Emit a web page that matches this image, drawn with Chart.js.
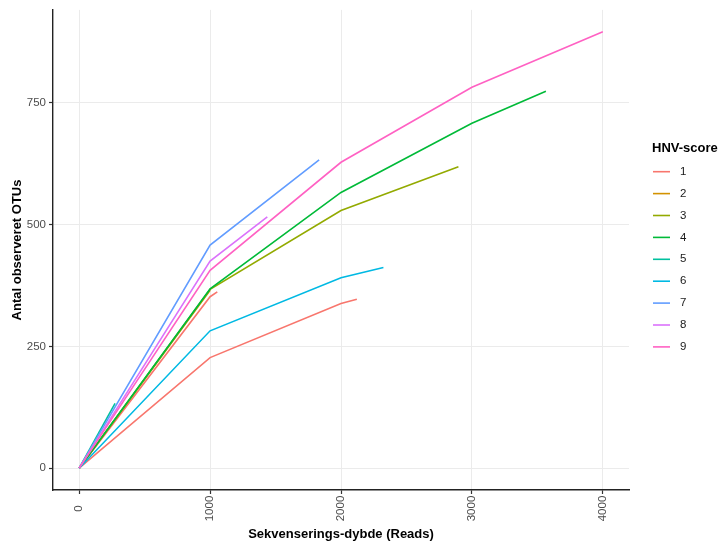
<!DOCTYPE html>
<html>
<head>
<meta charset="utf-8">
<script src="https://cdn.jsdelivr.net/npm/chart.js@4"></script>
<style>
  html, body { margin: 0; padding: 0; background: #fff; }
  #wrap { width: 723px; height: 544px; }
</style>
</head>
<body>
<div id="wrap"><canvas id="rarefaction"></canvas></div>
<script>
const hnvScores = ['1', '2', '3', '4', '5', '6', '7', '8', '9'];
const scoreColours = ['#F8766D', '#D39200', '#93AA00', '#00BA38', '#00C19F',
                      '#00B9E3', '#619CFF', '#DB72FB', '#FF61C3'];

// one line per sample: its HNV-score, the read depths and OTUs observed
const sampleScore = [1, 1, 2, 3, 4, 5, 6, 7, 8, 9];
const sampleDepth = [
  [0, 1000, 2000, 2121],
  [0, 1000, 1055],
  [0, 1000],
  [0, 1000, 2000, 2897],
  [0, 1000, 2000, 3000, 3565],
  [0, 274],
  [0, 1000, 2000, 2324],
  [0, 1000, 1833],
  [0, 1000, 1437],
  [0, 1000, 2000, 3000, 4000]
];
const sampleOtus = [
  [0, 227, 338, 347],
  [0, 352, 362],
  [0, 365],
  [0, 367, 529, 619],
  [0, 368, 566, 708, 774],
  [0, 133],
  [0, 282, 391, 412],
  [0, 458, 633],
  [0, 425, 516],
  [0, 406, 628, 782, 896]
];

const xTicks = [0, 1000, 2000, 3000, 4000];
const yTicks = [0, 250, 500, 750];

const fontFam = '"Liberation Sans", Arial, sans-serif';

const datasets = sampleScore.map((s, i) => ({
  label: hnvScores[s - 1],
  data: sampleDepth[i].map((d, j) => ({ x: d, y: sampleOtus[i][j] })),
  borderColor: scoreColours[s - 1],
  borderWidth: 1.6,
  pointRadius: 0,
  tension: 0,
  fill: false,
  order: sampleScore.length - i
}));

// rotated x labels (centred like ggplot) and the legend on the right
const extras = {
  id: 'extras',
  afterDraw(chart) {
    const ctx = chart.ctx;
    const xs = chart.scales.x;
    const area = chart.chartArea;
    ctx.save();
    ctx.fillStyle = '#4D4D4D';
    ctx.font = '11.5px ' + fontFam;
    ctx.textAlign = 'center';
    ctx.textBaseline = 'middle';
    xs.ticks.forEach(t => {
      ctx.save();
      ctx.translate(xs.getPixelForValue(t.value), area.bottom + 18.5);
      ctx.rotate(-Math.PI / 2);
      ctx.fillText(String(t.value), 0, 0);
      ctx.restore();
    });

    const lx = area.right + 23;
    ctx.textAlign = 'left';
    ctx.fillStyle = '#000';
    ctx.font = 'bold 13px ' + fontFam;
    ctx.fillText('HNV-score', lx, 148);
    ctx.font = '11.5px ' + fontFam;
    hnvScores.forEach((lab, k) => {
      const y = 171.7 + k * 21.9;
      ctx.strokeStyle = scoreColours[k];
      ctx.lineWidth = 1.6;
      ctx.beginPath();
      ctx.moveTo(lx + 1, y);
      ctx.lineTo(lx + 18, y);
      ctx.stroke();
      ctx.fillStyle = '#1A1A1A';
      ctx.fillText(lab, lx + 28, y);
    });
    ctx.restore();
  }
};

new Chart(document.getElementById('rarefaction'), {
  type: 'line',
  data: { datasets: datasets },
  plugins: [extras],
  options: {
    responsive: true,
    maintainAspectRatio: false,
    animation: false,
    layout: { padding: { top: 9, right: 94, bottom: 0, left: 0 } },
    plugins: { legend: { display: false }, tooltip: { enabled: false } },
    scales: {
      x: {
        type: 'linear',
        min: -200,
        max: 4200,
        afterBuildTicks: s => { s.ticks = xTicks.map(v => ({ value: v })); },
        afterFit: s => { s.height = 54; },
        ticks: { display: false },
        grid: { color: '#EBEBEB', lineWidth: 1, tickColor: '#333', tickLength: 4, tickWidth: 1.2 },
        border: { color: '#222', width: 1.4 },
        title: {
          display: true,
          text: 'Sekvenserings-dybde (Reads)',
          color: '#000',
          font: { family: fontFam, size: 13, weight: 'bold' },
          padding: { top: 0, bottom: 2 }
        }
      },
      y: {
        type: 'linear',
        min: -44.8,
        max: 940.8,
        afterBuildTicks: s => { s.ticks = yTicks.map(v => ({ value: v })); },
        afterFit: s => { s.width = 53; },
        ticks: {
          color: '#4D4D4D',
          padding: 3,
          font: { family: fontFam, size: 11.5 },
          callback: v => String(v)
        },
        grid: { color: '#EBEBEB', lineWidth: 1, tickColor: '#333', tickLength: 4, tickWidth: 1.2 },
        border: { color: '#222', width: 1.4 },
        title: {
          display: true,
          text: 'Antal observeret OTUs',
          color: '#000',
          font: { family: fontFam, size: 13, weight: 'bold' },
          padding: { top: 10, bottom: 0 }
        }
      }
    }
  }
});
</script>
</body>
</html>
